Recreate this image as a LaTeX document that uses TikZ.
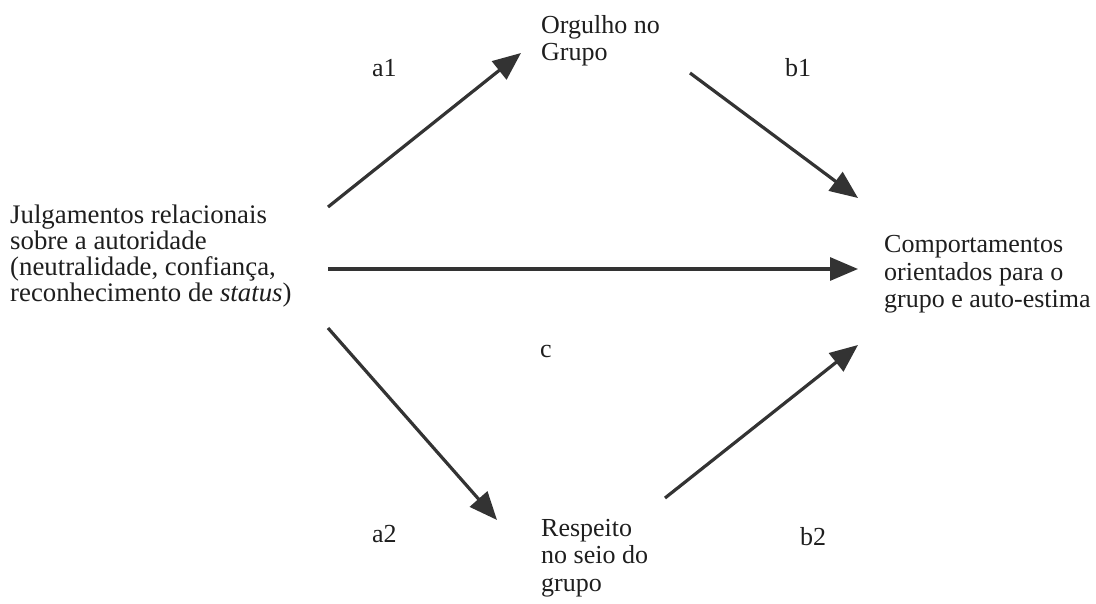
\documentclass[tikz,border=0pt]{standalone}
\usepackage{fontspec}
\setmainfont{Liberation Serif}
\usepackage{xcolor}
\usepackage{tikz}
\usetikzlibrary{arrows.meta, positioning}

\definecolor{inkgray}{HTML}{333333}
\definecolor{textgray}{HTML}{1E1E1E}

\begin{document}
\begin{tikzpicture}[
        x=1pt, y=-1pt,
        font=\fontsize{26}{27.5}\selectfont,
        every node/.style={text=textgray, inner sep=0pt},
        concept/.style={
            anchor=north west,
            align=left
        },
        pathlabel/.style={anchor=base west},
        arrow/.style={
            draw=inkgray,
            line width=3.2pt,
            -{Triangle[length=28pt, width=23pt, fill=inkgray]}
        }
    ]

        \useasboundingbox (0,0) rectangle (1096,604);

        % ---- Nodes ----
        \node[concept, font=\fontsize{26.8}{26}\selectfont] (jul) at (10,205)
            {Julgamentos relacionais\\sobre a autoridade\\(neutralidade, confiança,\\reconhecimento de \textit{status})};
        \node[concept] (org) at (541,15) {Orgulho no\\Grupo};
        \node[concept] (resp) at (541,519) {Respeito\\no seio do\\grupo};
        \node[concept] (comp) at (884,235.5) {Comportamentos\\orientados para o\\grupo e auto-estima};

        % ---- Path labels ----
        \node[pathlabel] (a1) at (372,77) {a1};
        \node[pathlabel] (b1) at (785,77) {b1};
        \node[pathlabel] (c) at (540,357) {c};
        \node[pathlabel] (a2) at (372,542) {a2};
        \node[pathlabel] (b2) at (800,545) {b2};

        % ---- Arrows ----
        \draw[arrow] ([shift={(318,2)}]jul.north west) -- ([shift={(-20,38)}]org.north west);
        \draw[arrow] ([shift={(149,58)}]org.north west) -- ([shift={(-26,-37.5)}]comp.north west);
        \draw[arrow] ([shift={(318,64)}]jul.north west) -- ([shift={(-26,33.5)}]comp.north west);
        \draw[arrow] ([shift={(318,123)}]jul.north west) -- ([shift={(-44,1)}]resp.north west);
        \draw[arrow] ([shift={(124,-21)}]resp.north west) -- ([shift={(-26,109.5)}]comp.north west);

    \end{tikzpicture}
\end{document}
